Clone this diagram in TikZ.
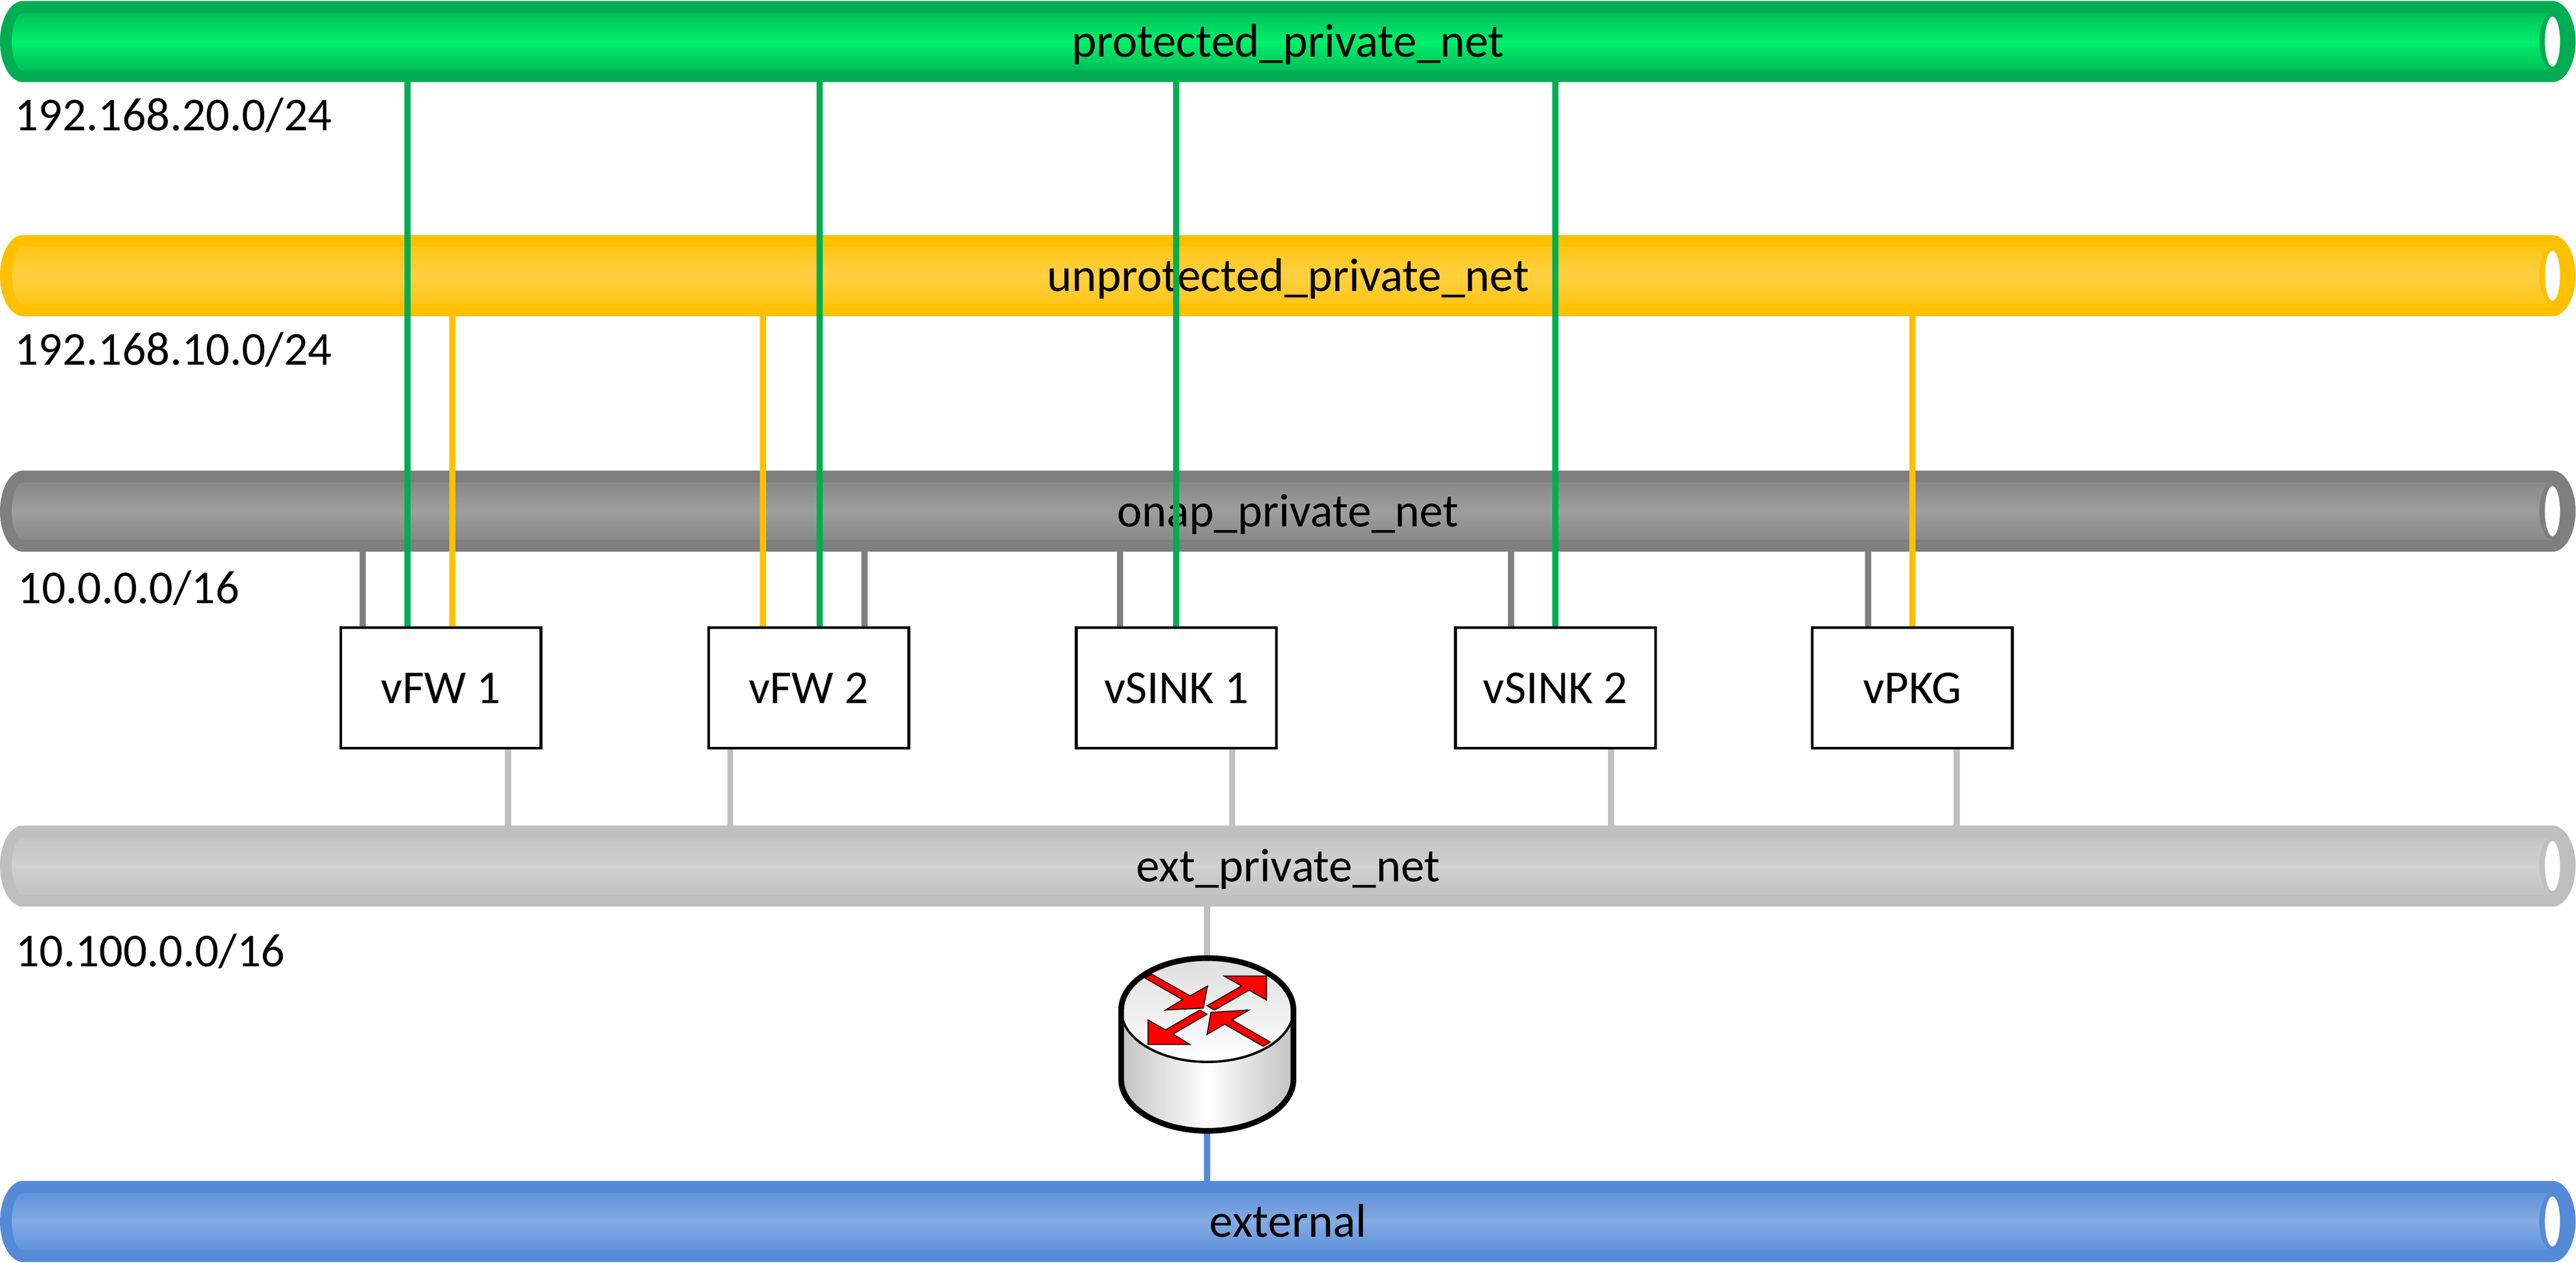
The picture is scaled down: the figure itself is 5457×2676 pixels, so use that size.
\documentclass[tikz,border=0pt]{standalone}
\usepackage{fontspec}
\setmainfont{Carlito}

\definecolor{greenband}{HTML}{00AD52}
\definecolor{greenedge}{HTML}{00BF58}
\definecolor{greenmid}{HTML}{00F06C}
\definecolor{yellowband}{HTML}{FFC000}
\definecolor{yellowedge}{HTML}{FFC518}
\definecolor{yellowmid}{HTML}{FFD040}
\definecolor{grayband}{HTML}{7F7F7F}
\definecolor{grayedge}{HTML}{888888}
\definecolor{graymid}{HTML}{9E9E9E}
\definecolor{lightband}{HTML}{BFBFBF}
\definecolor{lightedge}{HTML}{C3C3C3}
\definecolor{lightmid}{HTML}{D0D0D0}
\definecolor{blueband}{HTML}{558AD6}
\definecolor{blueedge}{HTML}{6092DA}
\definecolor{bluemid}{HTML}{84ABE3}

\tikzset{
	netlabel/.style = {minimum width = 545.7pt, minimum height = 17.2pt, inner sep = 0pt, outer sep = 0pt, text height = 8.4pt, text depth = 1.8pt},
	netaddr/.style = {anchor = base west, inner sep = 0pt},
	vmbox/.style = {draw, fill = white, line width = 0.6pt, minimum width = 42.4pt, minimum height = 25.5pt, inner sep = 0pt, text height = 6.6pt, text depth = 0pt},
	netlink/.style = {line width = 1.3pt},
	routerarrow/.style = {fill = red, draw = black, line width = 0.2pt}
}

% One pipe: name, top edge, colour stem, label
\newcommand{\netpipe}[4]{
	\begin{scope}[shift = {(0, #2)}]
		\fill [#3band] (49, 0) -- (5407, 0) arc [start angle = 270, end angle = 450, x radius = 49, y radius = 86] -- (49, 172) arc [start angle = 90, end angle = 270, x radius = 49, y radius = 86] -- cycle;
		\shade [top color = #3edge, bottom color = #3edge, middle color = #3mid] (49, 25) -- (5407, 25) arc [start angle = 270, end angle = 90, x radius = 28, y radius = 61] -- (49, 147) arc [start angle = 90, end angle = 270, x radius = 24, y radius = 61] -- cycle;
		\fill [white] (5407, 86) ellipse [x radius = 16, y radius = 53];
		\node [netlabel] (#1) at (2728.5, 86) {#4};
	\end{scope}
}

\begin{document}
\begin{tikzpicture}[x = 0.1pt, y = -0.1pt]

	\useasboundingbox (0, 0) rectangle (5457, 2676);

	% Networks

	\netpipe{protected}{2}{green}{protected\_private\_net}
	\netpipe{unprotected}{498}{yellow}{unprotected\_private\_net}
	\netpipe{onap}{997}{gray}{onap\_private\_net}
	\netpipe{ext}{1749}{light}{ext\_private\_net}
	\netpipe{external}{2502}{blue}{external}

	% Subnet addresses

	\node [netaddr] (addr20) at (29, 277) {192.168.20.0/24};
	\node [netaddr] (addr10) at (29, 773) {192.168.10.0/24};
	\node [netaddr] (addronap) at (36, 1279) {10.0.0.0/16};
	\node [netaddr] (addrext) at (31, 2048) {10.100.0.0/16};

	% Virtual machines

	\foreach \vm/\x/\vmname in {vfw1/934/vFW 1, vfw2/1713/vFW 2, vsink1/2492/vSINK 1, vsink2/3295/vSINK 2, vpkg/4051/vPKG}
		\node [vmbox] (\vm) at (\x, 1457.5) {\vmname};

	% Links, drawn over the pipes and their labels

	\foreach \x/\vm in {863/vfw1, 1736/vfw2, 2492/vsink1, 3295/vsink2}
		\draw [netlink, greenband] (protected.south -| \x, 0) -- (\vm.north -| \x, 0);

	\foreach \x/\vm in {958/vfw1, 1616/vfw2, 4051/vpkg}
		\draw [netlink, yellowband] (unprotected.south -| \x, 0) -- (\vm.north -| \x, 0);

	\foreach \x/\vm in {768/vfw1, 1831/vfw2, 2373/vsink1, 3201/vsink2, 3957/vpkg}
		\draw [netlink, grayband] (onap.south -| \x, 0) -- (\vm.north -| \x, 0);

	\foreach \x/\vm in {1076/vfw1, 1547/vfw2, 2610/vsink1, 3413/vsink2, 4145/vpkg}
		\draw [netlink, lightband] (\vm.south -| \x, 0) -- (ext.north -| \x, 0);

	% Router

	\node [minimum width = 37.7pt, minimum height = 37.8pt, inner sep = 0pt, outer sep = 0pt] (router) at (2557.5, 2213) {};

	\draw [netlink, lightband] (ext.south -| router.north) -- (router.north);
	\draw [netlink, blueband] (router.south) -- (external.north -| router.south);

	\shade [left color = black!24, right color = black!24, middle color = white] (2375, 2140) -- (2375, 2287) arc [start angle = 180, end angle = 0, x radius = 182.5, y radius = 109] -- (2740, 2140) -- cycle;
	\shade [top color = black!13, bottom color = white] (2557.5, 2140) ellipse [x radius = 182.5, y radius = 110];
	\draw [line width = 0.5pt] (2557.5, 2140) ellipse [x radius = 182.5, y radius = 110];
	\draw [line width = 1.2pt] (2375, 2287) -- (2375, 2140) arc [start angle = 180, end angle = 360, x radius = 182.5, y radius = 110] -- (2740, 2287) arc [start angle = 0, end angle = 180, x radius = 182.5, y radius = 109];

	\draw [routerarrow] (2440, 2064) -- (2521, 2110) -- (2558, 2089) -- (2549, 2136) -- (2469, 2140) -- (2505, 2118) -- (2425, 2072) -- cycle;
	\draw [routerarrow] (2557, 2131) -- (2630, 2089) -- (2593, 2068) -- (2683, 2068) -- (2683, 2119) -- (2646, 2098) -- (2573, 2140) -- cycle;
	\draw [routerarrow] (2542, 2140) -- (2557, 2149) -- (2485, 2191) -- (2521, 2213) -- (2432, 2213) -- (2432, 2161) -- (2469, 2182) -- cycle;
	\draw [routerarrow] (2691, 2208) -- (2676, 2217) -- (2594, 2170) -- (2557, 2192) -- (2565, 2145) -- (2646, 2140) -- (2610, 2161) -- cycle;

\end{tikzpicture}
\end{document}
